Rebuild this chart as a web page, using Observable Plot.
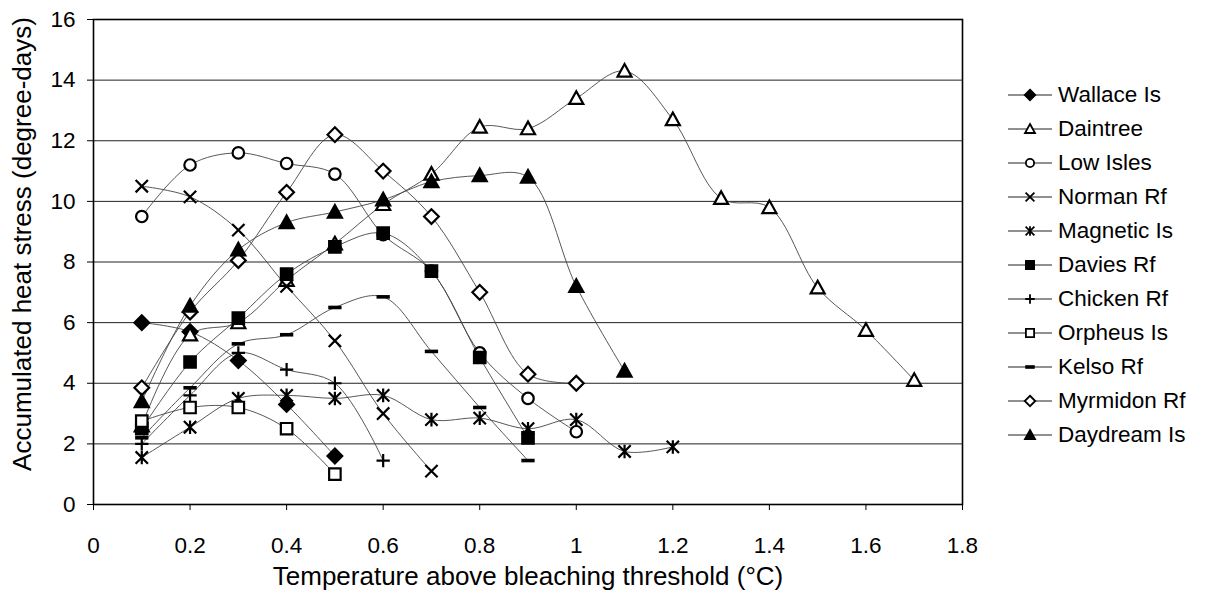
<!DOCTYPE html>
<html><head><meta charset="utf-8">
<script src="https://cdn.jsdelivr.net/npm/d3@7"></script>
<script src="https://cdn.jsdelivr.net/npm/@observablehq/plot@0.6"></script>
<style>
body{margin:0;background:#fff;font-family:"Liberation Sans",Arial,Helvetica,sans-serif;}
#wrap{position:relative;width:1206px;height:602px;}
#legend{position:absolute;left:1006px;top:78px;}
.row{display:flex;align-items:center;height:34px;font-size:22.5px;color:#000;}
.row svg{margin-right:4px;}
</style></head><body><div id="wrap"><div id="legend"></div></div>
<script>
// x values (°C above bleaching threshold)
const temps = [0.1,0.2,0.3,0.4,0.5,0.6,0.7,0.8,0.9,1.0,1.1,1.2,1.3,1.4,1.5,1.6,1.7];
const seriesNames = ["Wallace Is","Daintree","Low Isles","Norman Rf","Magnetic Is","Davies Rf","Chicken Rf","Orpheus Is","Kelso Rf","Myrmidon Rf","Daydream Is"];
// accumulated heat stress (degree-days), each series starting at 0.1
const wallaceIs  = [6.0, 5.7, 4.75, 3.3, 1.6];
const daintree   = [2.6, 5.6, 6.0, 7.4, 8.6, 9.9, 10.9, 12.45, 12.4, 13.4, 14.3, 12.7, 10.1, 9.8, 7.15, 5.75, 4.1];
const lowIsles   = [9.5, 11.2, 11.6, 11.25, 10.9, 8.9, 7.7, 5.0, 3.5, 2.4];
const normanRf   = [10.5, 10.15, 9.05, 7.2, 5.4, 3.0, 1.1];
const magneticIs = [1.55, 2.55, 3.5, 3.6, 3.5, 3.6, 2.8, 2.85, 2.5, 2.8, 1.75, 1.9];
const daviesRf   = [2.5, 4.7, 6.15, 7.6, 8.5, 8.95, 7.7, 4.85, 2.2];
const chickenRf  = [2.0, 3.6, 5.0, 4.45, 4.0, 1.45];
const orpheusIs  = [2.75, 3.2, 3.2, 2.5, 1.0];
const kelsoRf    = [2.2, 3.85, 5.3, 5.6, 6.5, 6.85, 5.05, 3.2, 1.45];
const myrmidonRf = [3.85, 6.35, 8.05, 10.3, 12.2, 11.0, 9.5, 7.0, 4.3, 4.0];
const daydreamIs = [3.4, 6.55, 8.4, 9.3, 9.65, 10.05, 10.65, 10.85, 10.8, 7.2, 4.4];
const xTicks = [0,0.2,0.4,0.6,0.8,1,1.2,1.4,1.6,1.8];
const yTicks = [0,2,4,6,8,10,12,14,16];
const xTitle = "Temperature above bleaching threshold (°C)";
const yTitle = "Accumulated heat stress (degree-days)";

const seriesValues = [wallaceIs,daintree,lowIsles,normanRf,magneticIs,daviesRf,chickenRf,orpheusIs,kelsoRf,myrmidonRf,daydreamIs];

// custom marker shapes
const sz = size => Math.sqrt(size/Math.PI);
const shapes = {
  diamond:{draw(c,size){const s=sz(size)*1.05;c.moveTo(0,-s);c.lineTo(s,0);c.lineTo(0,s);c.lineTo(-s,0);c.closePath();}},
  triangle:{draw(c,size){const s=sz(size)*1.0;c.moveTo(0,-s);c.lineTo(s,s*0.8);c.lineTo(-s,s*0.8);c.closePath();}},
  circle:{draw(c,size){const s=sz(size)*0.82;c.moveTo(s,0);c.arc(0,0,s,0,2*Math.PI);}},
  square:{draw(c,size){const s=sz(size)*0.82;c.rect(-s,-s,2*s,2*s);}},
  times:{draw(c,size){const s=sz(size)*0.88;c.moveTo(-s,-s);c.lineTo(s,s);c.moveTo(s,-s);c.lineTo(-s,s);}},
  asterisk:{draw(c,size){const s=sz(size)*0.88;c.moveTo(-s,-s);c.lineTo(s,s);c.moveTo(s,-s);c.lineTo(-s,s);c.moveTo(0,-s*1.1);c.lineTo(0,s*1.1);}},
  plus:{draw(c,size){const s=sz(size)*0.95;c.moveTo(-s,0);c.lineTo(s,0);c.moveTo(0,-s);c.lineTo(0,s);}},
  dash:{draw(c,size){const s=sz(size)*0.95;c.rect(-s,-1.8,2*s,3.6);}}
};
const styles = [
  {symbol:shapes.diamond, fill:"black", stroke:"black"},
  {symbol:shapes.triangle, fill:"white", stroke:"black"},
  {symbol:shapes.circle, fill:"white", stroke:"black"},
  {symbol:shapes.times, fill:"none", stroke:"black"},
  {symbol:shapes.asterisk, fill:"none", stroke:"black"},
  {symbol:shapes.square, fill:"black", stroke:"black"},
  {symbol:shapes.plus, fill:"none", stroke:"black"},
  {symbol:shapes.square, fill:"white", stroke:"black"},
  {symbol:shapes.dash, fill:"black", stroke:"none"},
  {symbol:shapes.diamond, fill:"white", stroke:"black"},
  {symbol:shapes.triangle, fill:"black", stroke:"black"}
];

const tables = seriesValues.map((vals,i) => vals.map((v,j) => ({series:seriesNames[i], t:temps[j], v})));

const font = '"Liberation Sans",Arial,Helvetica,sans-serif';
const chart = Plot.plot({
  width:1206, height:602,
  marginLeft:93, marginRight:244, marginTop:19, marginBottom:98,
  style:{fontFamily:font, fontSize:"22.5px", background:"white", color:"black", overflow:"visible"},
  x:{domain:[0,1.8], ticks:xTicks, tickFormat:d=>String(d), tickSize:6, tickPadding:27, label:null},
  y:{domain:[0,16], ticks:yTicks, tickFormat:d=>String(d), tickSize:6, tickPadding:12, label:null},
  marks:[
    Plot.ruleY(yTicks, {stroke:"#222", strokeWidth:1}),
    ...tables.map(tb => Plot.line(tb, {x:"t", y:"v", curve:"catmull-rom", stroke:"#444", strokeWidth:0.9})),
    ...tables.map((tb,i) => Plot.dot(tb, {x:"t", y:"v", r:7, symbol:styles[i].symbol, fill:styles[i].fill, stroke:styles[i].stroke, strokeWidth:2.2})),
    Plot.frame({stroke:"black", strokeWidth:1.6}),
    Plot.text([yTitle], {text:d=>d, frameAnchor:"left", dx:-71, dy:-18, rotate:-90, textAnchor:"middle", fontSize:26, fill:"black"}),
    Plot.text([xTitle], {text:d=>d, frameAnchor:"bottom", dx:0, dy:80, textAnchor:"middle", fontSize:26, fill:"black"})
  ]
});
document.getElementById("wrap").prepend(chart);

// legend
const legend = d3.select("#legend");
seriesNames.forEach((name,i) => {
  const row = legend.append("div").attr("class","row");
  const svg = row.append("svg").attr("width",48).attr("height",20);
  svg.append("line").attr("x1",2).attr("x2",46).attr("y1",10).attr("y2",10).attr("stroke","#222").attr("stroke-width",1.2);
  svg.append("path").attr("transform","translate(24,10)")
    .attr("d", d3.symbol(styles[i].symbol, Math.PI*25)())
    .attr("fill", styles[i].fill).attr("stroke", styles[i].stroke).attr("stroke-width",1.8);
  row.append("span").text(name);
});
</script>
</body></html>
